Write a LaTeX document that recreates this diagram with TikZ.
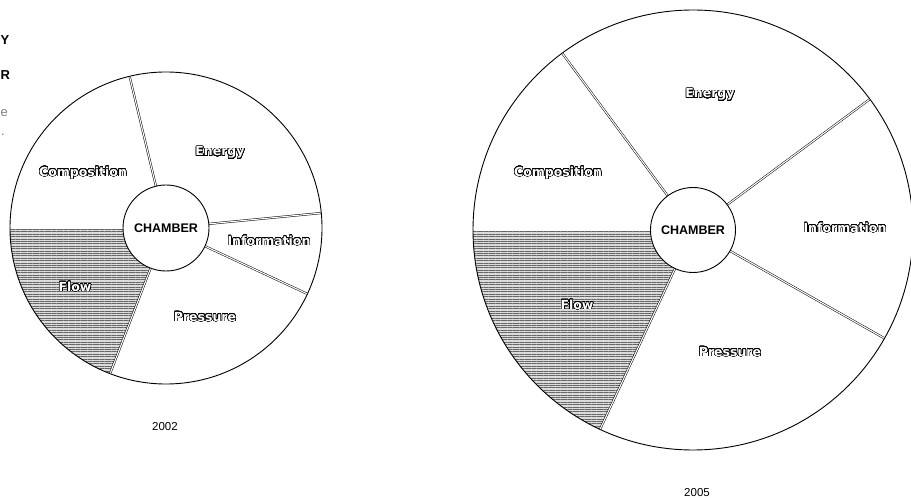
\documentclass[tikz,border=0pt]{standalone}
\usepackage{fontspec}
\setmainfont{Liberation Sans}
\newfontfamily\lblfont{DejaVu Sans}
\usepackage[copies]{contour}
\contourlength{0.5pt}
\contournumber{32}
\usetikzlibrary{calc,patterns.meta}
\begin{document}
\begin{tikzpicture}[x=1pt,y=1pt,
  rim/.style={draw=black,line width=0.9pt},
  divider/.style={draw=black,line width=0.5pt,double=white,double distance=1.1pt},
  hub/.style={circle,draw=black,line width=0.9pt,fill=white,minimum size=#1,inner sep=0pt,font=\bfseries\fontsize{12.5}{14}\selectfont},
  sector/.style={font=\lblfont\bfseries\fontsize{12.5}{14}\selectfont},
  yearlbl/.style={font=\fontsize{11.5}{13}\selectfont},
  edgelbl/.style={inner sep=0pt,anchor=west,font=\bfseries\fontsize{13}{15}\selectfont},
  edgegray/.style={inner sep=0pt,anchor=west,text=gray,font=\fontsize{13}{15}\selectfont},
  flowfill/.style={fill=gray!28},
  flowlines/.style={pattern={Lines[angle=0,distance=2.4pt,line width=0.55pt]},pattern color=black!60}
]
\useasboundingbox (0,0) rectangle (911,498);
\clip (0,0) rectangle (911,498);

% fragments at the left edge
\node[edgelbl] (fy) at (0.5,458) {Y};
\node[edgelbl] (fr) at (0.5,423) {R};
\node[edgegray] (fe) at (0.5,385) {e};
\node[edgegray] (fd) at (1,363) {.};

% ================= 2002 =================
\coordinate (cA) at (166,270);
\def\RA{156}
\def\rA{43}
\fill[flowfill] (cA) -- ++(180:\RA) arc[start angle=180,end angle=249,radius=\RA] -- cycle;
\fill[flowlines] (cA) -- ++(180:\RA) arc[start angle=180,end angle=249,radius=\RA] -- cycle;
\draw[rim] (cA) circle[radius=\RA];
\foreach \a in {103.5,5.5,-25,-111,180}{
  \draw[divider] ($(cA)+(\a:\rA)$) -- ($(cA)+(\a:\RA-0.6)$);
}
\node[hub=86pt] (hubA) at (cA) {CHAMBER};
\node[sector] (enA) at (220,345) {\contour{black}{\textcolor{white}{Energy}}};
\node[sector] (coA) at (83,325) {\contour{black}{\textcolor{white}{Composition}}};
\node[sector] (inA) at (269,257) {\contour{black}{\textcolor{white}{Information}}};
\node[sector] (flA) at (75,211) {\contour{black}{\textcolor{white}{Flow}}};
\node[sector] (prA) at (205,181) {\contour{black}{\textcolor{white}{Pressure}}};
\node[yearlbl] (yA) at (165,71) {2002};

% ================= 2005 =================
\coordinate (cB) at (693,268);
\def\RB{220}
\def\rB{42.5}
\fill[flowfill] (cB) -- ++(180:\RB) arc[start angle=180,end angle=245,radius=\RB] -- cycle;
\fill[flowlines] (cB) -- ++(180:\RB) arc[start angle=180,end angle=245,radius=\RB] -- cycle;
\draw[rim] (cB) circle[radius=\RB];
\foreach \a in {126.5,36.5,-29.5,-115,180}{
  \draw[divider] ($(cB)+(\a:\rB)$) -- ($(cB)+(\a:\RB-0.6)$);
}
\node[hub=85pt] (hubB) at (cB) {CHAMBER};
\node[sector] (enB) at (710,403) {\contour{black}{\textcolor{white}{Energy}}};
\node[sector] (coB) at (558,325) {\contour{black}{\textcolor{white}{Composition}}};
\node[sector] (inB) at (845,270) {\contour{black}{\textcolor{white}{Information}}};
\node[sector] (flB) at (577,193) {\contour{black}{\textcolor{white}{Flow}}};
\node[sector] (prB) at (730,146) {\contour{black}{\textcolor{white}{Pressure}}};
\node[yearlbl] (yB) at (697,5) {2005};
\end{tikzpicture}
\end{document}
